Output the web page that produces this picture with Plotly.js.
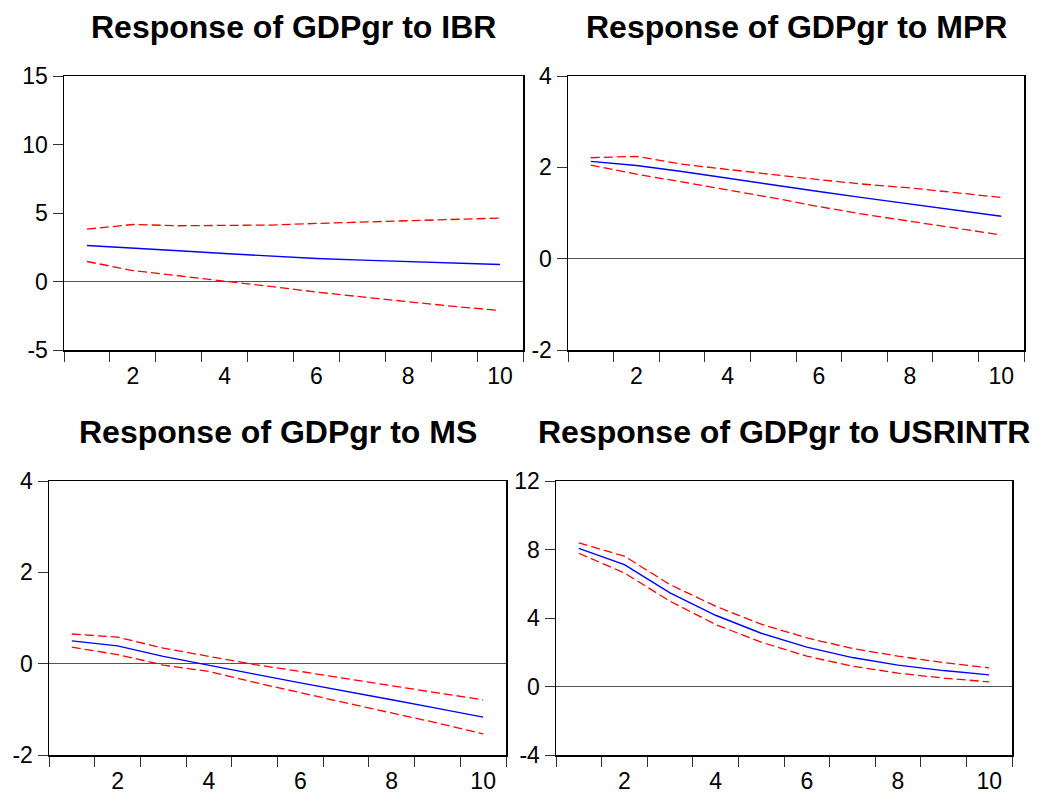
<!DOCTYPE html>
<html>
<head>
<meta charset="utf-8">
<script src="https://cdn.plot.ly/plotly-3.0.1.min.js"></script>
<style>html,body{margin:0;padding:0;background:#fff}#chart{width:1042px;height:795px}</style>
</head>
<body>
<div id="chart"></div>
<script>
var periods = [1, 2, 3, 4, 5, 6, 7, 8, 9, 10];
var xTickVals = [2, 4, 6, 8, 10];
var xTickText = ['2', '4', '6', '8', '10'];
var xBoundaryTicks = [0.5, 1.5, 2.5, 3.5, 4.5, 5.5, 6.5, 7.5, 8.5, 9.5, 10.5];

var titles = ['Response of GDPgr to IBR', 'Response of GDPgr to MPR', 'Response of GDPgr to MS', 'Response of GDPgr to USRINTR'];

// Response of GDPgr to IBR
var ibrResp  = [2.63, 2.46, 2.24, 2.04, 1.85, 1.68, 1.56, 1.44, 1.34, 1.24];
var ibrUpper = [3.82, 4.16, 4.07, 4.07, 4.12, 4.24, 4.33, 4.43, 4.53, 4.63];
var ibrLower = [1.46, 0.80, 0.42, 0.05, -0.36, -0.77, -1.14, -1.48, -1.82, -2.12];

// Response of GDPgr to MPR
var mprResp  = [2.13, 2.04, 1.91, 1.76, 1.61, 1.47, 1.33, 1.20, 1.07, 0.93];
var mprUpper = [2.21, 2.24, 2.07, 1.95, 1.84, 1.73, 1.63, 1.55, 1.45, 1.34];
var mprLower = [2.05, 1.85, 1.68, 1.51, 1.33, 1.14, 0.97, 0.82, 0.67, 0.52];

// Response of GDPgr to MS
var msResp  = [0.50, 0.39, 0.16, -0.04, -0.23, -0.42, -0.60, -0.79, -0.98, -1.17];
var msUpper = [0.65, 0.58, 0.34, 0.16, -0.02, -0.17, -0.33, -0.48, -0.64, -0.79];
var msLower = [0.36, 0.20, -0.03, -0.17, -0.41, -0.64, -0.86, -1.08, -1.30, -1.54];

// Response of GDPgr to USRINTR
var usrResp  = [8.07, 7.12, 5.47, 4.16, 3.11, 2.30, 1.69, 1.25, 0.93, 0.68];
var usrUpper = [8.39, 7.61, 5.95, 4.69, 3.64, 2.84, 2.22, 1.77, 1.40, 1.09];
var usrLower = [7.78, 6.63, 4.98, 3.62, 2.59, 1.77, 1.19, 0.78, 0.49, 0.27];

var yRanges = [[-5, 15], [-2, 4], [-2, 4], [-4, 12]];
var yTickVals = [[-5, 0, 5, 10, 15], [-2, 0, 2, 4], [-2, 0, 2, 4], [-4, 0, 4, 8, 12]];
var yTickText = [['-5', '0', '5', '10', '15'], ['-2', '0', '2', '4'], ['-2', '0', '2', '4'], ['-4', '0', '4', '8', '12']];

var W = 1042, H = 795;
// plot boxes in pixels: [left, right, top, bottom]
var boxes = [[64, 523, 76, 350], [568, 1024, 76, 350], [49, 506, 481, 755], [556, 1012, 481, 755]];
var titleY = [27, 27, 432, 432];

var series = [
  [ibrResp, ibrUpper, ibrLower],
  [mprResp, mprUpper, mprLower],
  [msResp, msUpper, msLower],
  [usrResp, usrUpper, usrLower]
];

var traces = [];
var layout = {
  width: W, height: H,
  margin: {l: 0, r: 0, t: 0, b: 0},
  paper_bgcolor: '#fff', plot_bgcolor: '#fff',
  showlegend: false,
  font: {family: 'Liberation Sans, Arial, sans-serif', color: '#000', size: 23},
  annotations: []
};

for (var i = 0; i < 4; i++) {
  var n = i + 1;
  var xa = 'x' + (n === 1 ? '' : n), ya = 'y' + (n === 1 ? '' : n);
  var s = series[i];
  traces.push({x: periods, y: s[1], xaxis: xa, yaxis: ya, mode: 'lines', line: {color: '#ff0000', width: 1.3, dash: '9px,4px'}, hoverinfo: 'skip'});
  traces.push({x: periods, y: s[2], xaxis: xa, yaxis: ya, mode: 'lines', line: {color: '#ff0000', width: 1.3, dash: '9px,4px'}, hoverinfo: 'skip'});
  traces.push({x: periods, y: s[0], xaxis: xa, yaxis: ya, mode: 'lines', line: {color: '#0000ff', width: 1.4}, hoverinfo: 'skip'});
  var b = boxes[i];
  var xdom = [b[0] / W, b[1] / W];
  var ydom = [(H - b[3]) / H, (H - b[2]) / H];
  layout['xaxis' + (n === 1 ? '' : n)] = {
    domain: xdom, anchor: ya, range: [0.5, 10.5],
    tickmode: 'array', tickvals: xTickVals, ticktext: xTickText,
    ticks: 'outside', ticklen: 5, tickcolor: 'rgba(0,0,0,0)',
    minor: {tickmode: 'array', tickvals: xBoundaryTicks, ticks: 'outside', ticklen: 10, tickwidth: 1, tickcolor: '#333', showgrid: false},
    showline: true, mirror: true, linecolor: '#000', linewidth: 1.5,
    showgrid: false, zeroline: false, fixedrange: true,
    tickfont: {size: 23}
  };
  layout['yaxis' + (n === 1 ? '' : n)] = {
    domain: ydom, anchor: xa, range: yRanges[i],
    tickmode: 'array', tickvals: yTickVals[i], ticktext: yTickText[i],
    ticks: 'outside', ticklen: 10, tickwidth: 1, tickcolor: '#333',
    showline: true, mirror: true, linecolor: '#000', linewidth: 1.5,
    showgrid: false, zeroline: true, zerolinecolor: '#555', zerolinewidth: 1,
    fixedrange: true, tickfont: {size: 23}
  };
  layout.annotations.push({
    text: '<b>' + titles[i] + '</b>', xref: 'paper', yref: 'paper',
    x: (b[0] + b[1]) / 2 / W, y: (H - titleY[i]) / H,
    xanchor: 'center', yanchor: 'middle', showarrow: false,
    font: {size: 32, family: 'Liberation Sans, Arial, sans-serif', color: '#000'}
  });
}

Plotly.newPlot('chart', traces, layout, {displayModeBar: false, staticPlot: true});
</script>
</body>
</html>
